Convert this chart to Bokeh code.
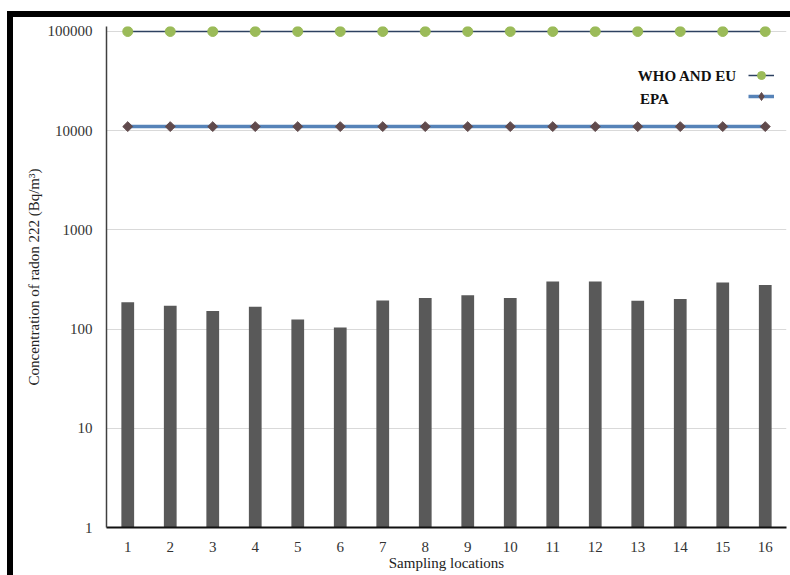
from bokeh.plotting import figure
from bokeh.models import Range1d, FixedTicker, NumeralTickFormatter, Legend, LegendItem, Label, ColumnDataSource
from bokeh.embed import file_html
from bokeh.resources import INLINE
import numpy as np

# ---- data ----
locations = list(range(1, 17))
radon = [186, 172, 152, 168, 125, 104, 194, 206, 220, 206, 302, 302, 193, 201, 295, 278]
who_eu = [100000] * 16
epa = [11000] * 16
y_ticks = [1, 10, 100, 1000, 10000, 100000]
x_ticks = locations

FONT = "Liberation Serif"

src = ColumnDataSource(dict(x=locations, radon=radon, who=who_eu, epa=epa))

p = figure(width=783, height=564, output_backend="svg", toolbar_location=None,
           y_axis_type="log", x_range=Range1d(0.5, 16.5), y_range=Range1d(1, 1.123e5),
           min_border_left=93, min_border_right=10, min_border_top=9, min_border_bottom=54)
p.styles = {"border-top": "6px solid black", "border-left": "6px solid black",
            "margin-left": "7px", "margin-top": "11px"}
p.outline_line_color = None
p.background_fill_color = "white"

p.vbar(x="x", top="radon", bottom=1, width=0.3, source=src, fill_color="#595959", line_color=None)

who_line = p.line(x="x", y="who", source=src, line_color="#2D4160", line_width=1.5)
who_pts = p.scatter(x="x", y="who", source=src, marker="circle", size=10,
                    fill_color="#9BBB59", line_color="#9BBB59")
epa_line = p.line(x="x", y="epa", source=src, line_color="#5683B8", line_width=3.5)
epa_pts = p.scatter(x="x", y="epa", source=src, marker="square", angle=np.pi / 4, size=7,
                    fill_color="#604A4C", line_color="#604A4C")
# zero-size diamonds: only used so the legend shows a diamond sample
epa_key = p.scatter(x="x", y="epa", source=src, marker="diamond", size=0,
                    fill_color="#604A4C", line_color="#604A4C")

# axes
p.xaxis.ticker = FixedTicker(ticks=x_ticks, minor_ticks=[])
p.yaxis.ticker = FixedTicker(ticks=y_ticks, minor_ticks=[])
p.yaxis.formatter = NumeralTickFormatter(format="0")
for ax in (p.xaxis[0], p.yaxis[0]):
    ax.major_tick_line_color = None
    ax.minor_tick_line_color = None
    ax.major_tick_out = 0
    ax.major_tick_in = 0
    ax.major_label_text_font = FONT
    ax.major_label_text_font_size = "15px"
    ax.major_label_text_color = "#333333"
    ax.axis_label_text_font = FONT
    ax.axis_label_text_font_size = "15px"
    ax.axis_label_text_font_style = "normal"
    ax.axis_label_text_color = "#222222"

p.xaxis.axis_label = "Sampling locations"
p.yaxis.axis_label = "Concentration of radon 222 (Bq/m³)"
p.xaxis.axis_line_color = "#111111"
p.xaxis.axis_line_width = 2
p.yaxis.axis_line_color = "#404040"
p.yaxis.axis_line_width = 1.5
p.xaxis.major_label_standoff = 14
p.xaxis.axis_label_standoff = 0
p.yaxis.major_label_standoff = 14
p.yaxis.axis_label_standoff = 3

p.xgrid.grid_line_color = None
p.ygrid.grid_line_color = "#D9D9D9"
p.ygrid.grid_line_width = 1
p.ygrid.minor_grid_line_color = None

# legend (glyphs on right, text on left)
legend = Legend(items=[LegendItem(label=" ", renderers=[who_line, who_pts]),
                       LegendItem(label=" ", renderers=[epa_line, epa_key])],
                location=(642, 421), padding=0, margin=0, spacing=1,
                glyph_width=26, glyph_height=20, label_standoff=0, label_width=0,
                border_line_color=None, background_fill_alpha=0,
                label_text_font_size="15px")
p.add_layout(legend, "center")

p.add_layout(Label(x=13.0, y=36000, text="WHO AND EU", text_font=FONT, text_font_style="bold",
                   text_font_size="15px", text_baseline="middle", text_align="left", text_color="#111111"))
p.add_layout(Label(x=13.05, y=20650, text="EPA", text_font=FONT, text_font_style="bold",
                   text_font_size="15px", text_baseline="middle", text_align="left", text_color="#111111"))

open("out.html", "w").write(file_html(p, INLINE))
